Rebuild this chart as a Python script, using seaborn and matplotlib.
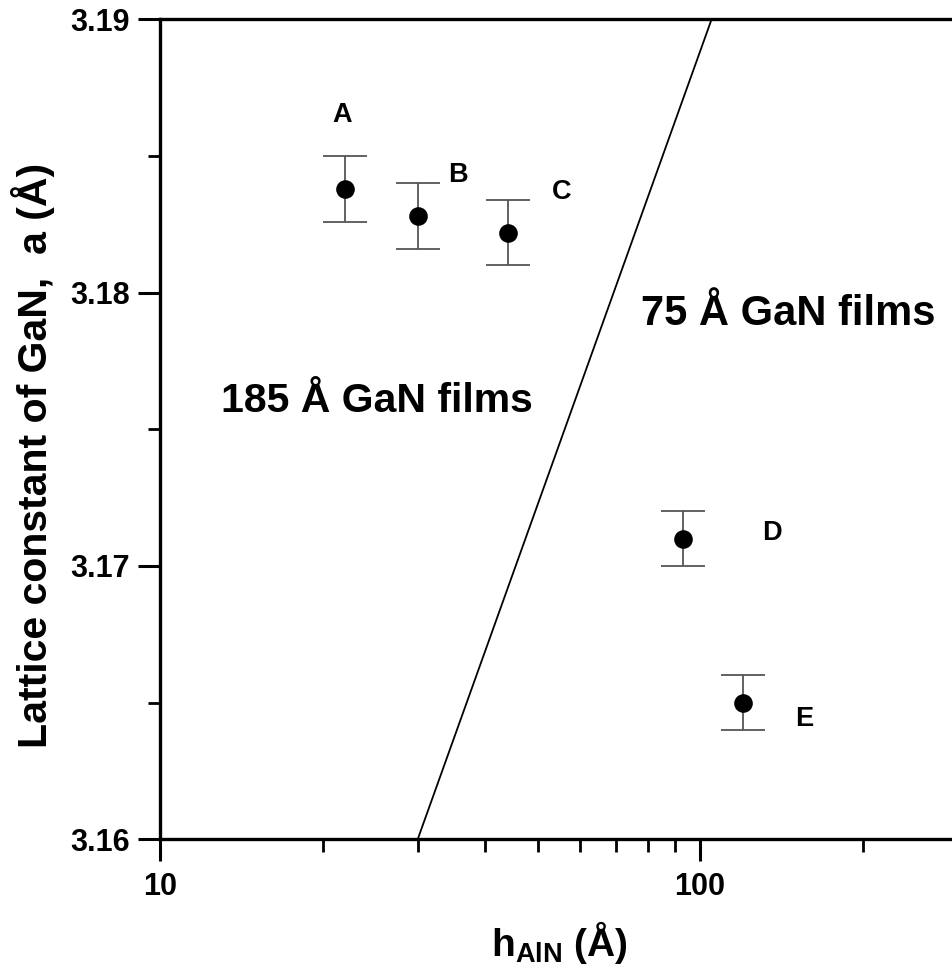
import matplotlib
matplotlib.use("Agg")
import matplotlib.pyplot as plt
import matplotlib.ticker as mticker
import numpy as np
import pandas as pd
import seaborn as sns

# data
sample_names = ["A", "B", "C", "D", "E"]
h_aln = [22.0, 30.0, 44.0, 93.0, 120.0]
lattice_a = [3.1838, 3.1828, 3.1822, 3.1710, 3.1650]
lattice_err = [0.0012, 0.0012, 0.0012, 0.0010, 0.0010]
# where the sample letters sit (data coords)
label_x = [21.7, 35.6, 55.3, 136.0, 156.0]
label_y = [3.1865, 3.1843, 3.1837, 3.1712, 3.1644]
boundary_x = [30.0, 105.0]
boundary_y = [3.16, 3.19]

df = pd.DataFrame({"sample": sample_names, "h": h_aln, "a": lattice_a, "err": lattice_err})

sns.set_style("ticks", {"text.color": "black", "axes.labelcolor": "black",
                        "xtick.color": "black", "ytick.color": "black",
                        "axes.edgecolor": "black"})
plt.rcParams["font.family"] = ["Liberation Sans", "DejaVu Sans"]
plt.rcParams["mathtext.default"] = "regular"

fig = plt.figure(figsize=(9.53, 9.69), dpi=100)
ax = fig.add_axes([0.168, 0.134, 0.837, 0.846])

ax.errorbar(df["h"], df["a"], yerr=df["err"], fmt="none", ecolor="#555555",
            elinewidth=1.3, capsize=16, capthick=1.3, zorder=2)
sns.scatterplot(data=df, x="h", y="a", color="black", s=180, edgecolor="black",
                linewidth=0, ax=ax, zorder=3, legend=False)
sns.lineplot(x=boundary_x, y=boundary_y, color="black", linewidth=1.3, ax=ax)

for name, x, y in zip(sample_names, label_x, label_y):
    ax.text(x, y, name, fontsize=19.5, fontweight="bold", ha="center", va="center")

ax.text(0.0765, 0.535, "185 Å GaN films", transform=ax.transAxes, fontsize=29.5,
        fontweight="bold", ha="left", va="center")
ax.text(0.972, 0.64, "75 Å GaN films", transform=ax.transAxes, fontsize=30,
        fontweight="bold", ha="right", va="center")

ax.set_xscale("log")
ax.set_xlim(10, 300)
ax.set_ylim(3.16, 3.19)
ax.set_xticks([10, 100])
ax.xaxis.set_major_formatter(mticker.FuncFormatter(lambda v, p: f"{v:g}"))
ax.xaxis.set_minor_locator(mticker.LogLocator(base=10, subs=np.arange(2, 10)))
ax.xaxis.set_minor_formatter(mticker.NullFormatter())
ax.set_yticks([3.16, 3.17, 3.18, 3.19])
ax.yaxis.set_major_formatter(mticker.FormatStrFormatter("%.2f"))
ax.yaxis.set_minor_locator(mticker.MultipleLocator(0.005))

ax.tick_params(axis="both", which="major", direction="out", length=16, width=2.2,
               labelsize=22)
ax.tick_params(axis="x", which="major", pad=8)
ax.tick_params(axis="y", which="major", pad=6)
ax.tick_params(axis="both", which="minor", direction="out", length=9, width=2.0)
ax.tick_params(axis="x", which="both", top=False)
ax.tick_params(axis="y", which="both", right=False)
for lbl in ax.get_xticklabels() + ax.get_yticklabels():
    lbl.set_fontweight("bold")

for side in ["left", "bottom", "top"]:
    ax.spines[side].set_linewidth(2.4)
ax.spines["right"].set_visible(False)

ax.set_xlabel("h$_{AlN}$ (Å)", fontsize=28, fontweight="bold", labelpad=12)
ax.set_ylabel("Lattice constant of GaN,  a (Å)", fontsize=29.5, fontweight="bold")
ax.yaxis.set_label_coords(-0.132, 0.468)

fig.savefig("out.png", dpi=100)
